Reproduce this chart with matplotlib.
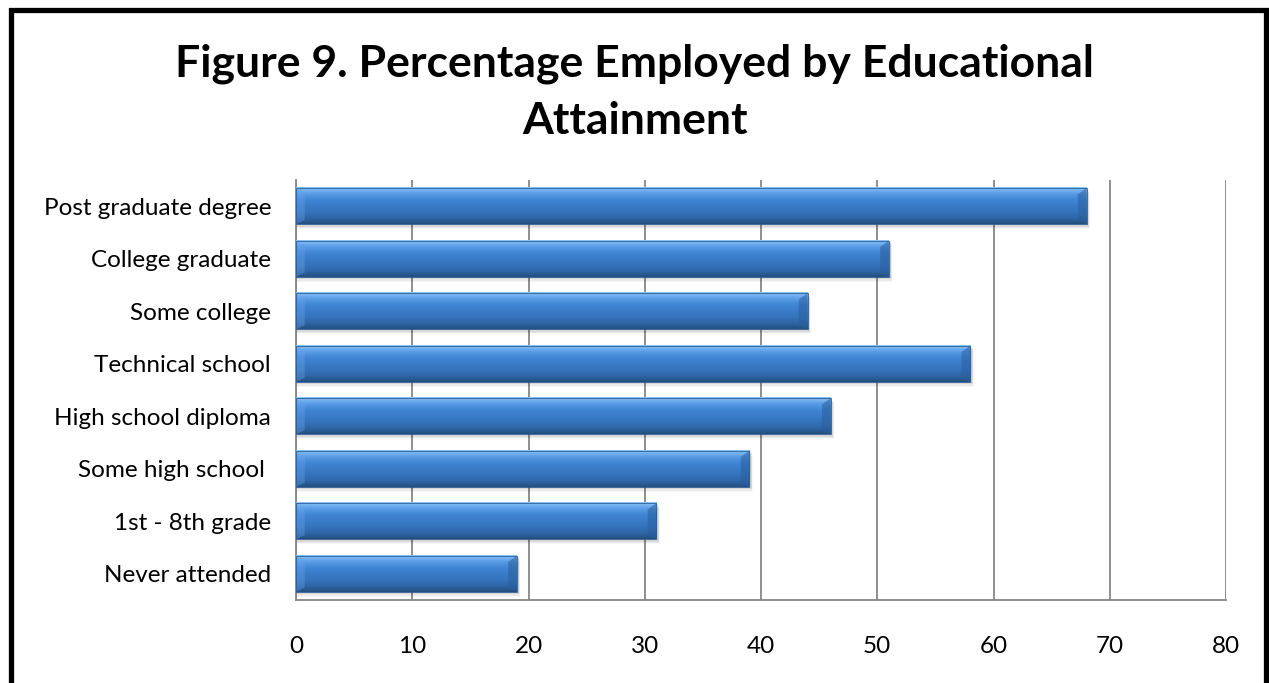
import matplotlib
matplotlib.use("Agg")
import matplotlib.pyplot as plt
import numpy as np
from matplotlib.patches import Rectangle, Polygon
from matplotlib.colors import LinearSegmentedColormap

categories = ["Never attended", "1st - 8th grade", "Some high school ", "High school diploma",
              "Technical school", "Some college", "College graduate", "Post graduate degree"]
values = [19, 31, 39, 46, 58, 44, 51, 68]
xticks = [0, 10, 20, 30, 40, 50, 60, 70, 80]
title = "Figure 9. Percentage Employed by Educational\nAttainment"

plt.rcParams['font.family'] = ['Lato', 'DejaVu Sans']

W, H = 1269, 683
fig = plt.figure(figsize=(W / 100, H / 100), dpi=100)
ax = fig.add_axes([296 / W, 1 - 600 / H, (1226 - 296) / W, 420 / H])

bar_h = 0.69
grad_cols = ["#8cc3f6", "#5a9de6", "#4186d4", "#3a7cc8", "#3674bd", "#2f67a8", "#24507f"]
cmap = LinearSegmentedColormap.from_list("barg", grad_cols)
grad = np.linspace(0, 1, 64).reshape(-1, 1)

ypos = np.arange(len(categories))
for y, v in zip(ypos, values):
    for k, a in enumerate([0.10, 0.07, 0.05, 0.03]):
        ax.add_patch(Rectangle((0, y - bar_h / 2 - 0.02 - 0.025 * k), v + 0.15 + 0.05 * k, bar_h,
                               facecolor="black", alpha=a, edgecolor="none", zorder=2))
    ax.imshow(grad, cmap=cmap, aspect="auto", extent=(0, v, y - bar_h / 2, y + bar_h / 2),
              zorder=3, interpolation="bilinear")
    bw = 0.75
    ax.add_patch(Polygon([(v, y + bar_h / 2), (v, y - bar_h / 2), (v - bw, y - bar_h / 2 + 0.08),
                          (v - bw, y + bar_h / 2 - 0.12)], closed=True,
                         facecolor="#2a5f9e", alpha=0.55, edgecolor="none", zorder=4))
    ax.add_patch(Polygon([(0, y + bar_h / 2), (0, y - bar_h / 2), (bw, y - bar_h / 2 + 0.08),
                          (bw, y + bar_h / 2 - 0.12)], closed=True,
                         facecolor="#6aa8ee", alpha=0.35, edgecolor="none", zorder=4))
    ax.add_patch(Rectangle((0, y - bar_h / 2), v, bar_h, facecolor="none",
                           edgecolor="#2c5d96", linewidth=0.6, zorder=5))

ax.set_xlim(0, 80)
ax.set_ylim(-0.5, len(categories) - 0.5)
ax.set_xticks(xticks)
ax.set_xticklabels([str(t) for t in xticks], fontsize=17.5)
ax.set_yticks(ypos)
ax.set_yticklabels(categories, fontsize=17.5)
ax.tick_params(axis="x", length=0, pad=26)
ax.tick_params(axis="y", length=0, pad=18)
ax.grid(axis="x", color="#868686", linewidth=1.3, zorder=0)
ax.set_axisbelow(True)
for s in ["top", "right"]:
    ax.spines[s].set_visible(False)
for s in ["left", "bottom"]:
    ax.spines[s].set_color("#868686")
    ax.spines[s].set_linewidth(1.3)

fig.text(0.5, 1 - 92 / H, title, ha="center", va="center", fontsize=32, fontweight="bold",
         linespacing=1.5)

fig.add_artist(Rectangle((10.5 / W, -0.05), (1266 - 10.5) / W, 1 - 9.5 / H + 0.05,
                         transform=fig.transFigure, facecolor="none", edgecolor="black",
                         linewidth=3.8))

fig.savefig("out.png", dpi=100)
